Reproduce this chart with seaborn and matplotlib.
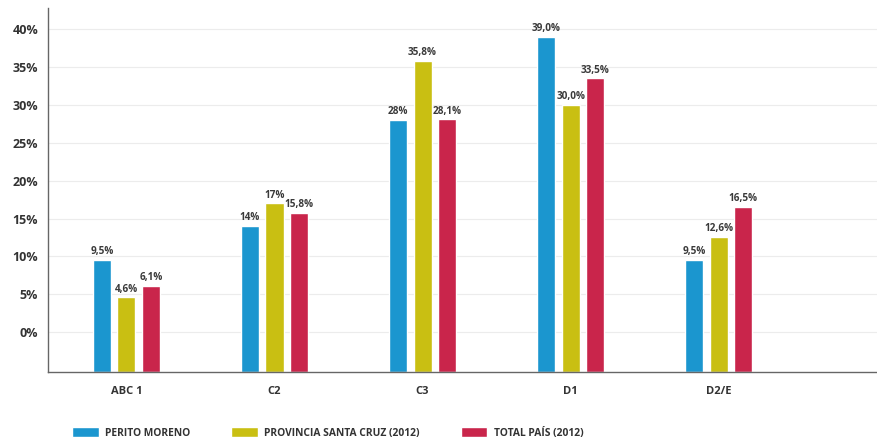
import pandas as pd
import matplotlib.pyplot as plt
import seaborn as sns
from matplotlib.ticker import FuncFormatter

categories = ["ABC 1", "C2", "C3", "D1", "D2/E"]
series = ["PERITO MORENO", "PROVINCIA SANTA CRUZ (2012)", "TOTAL PAÍS (2012)"]
perito_moreno = [9.5, 14.0, 28.0, 39.0, 9.5]
santa_cruz = [4.6, 17.0, 35.8, 30.0, 12.6]
total_pais = [6.1, 15.8, 28.1, 33.5, 16.5]
labels_pm = ["9,5%", "14%", "28%", "39,0%", "9,5%"]
labels_sc = ["4,6%", "17%", "35,8%", "30,0%", "12,6%"]
labels_tp = ["6,1%", "15,8%", "28,1%", "33,5%", "16,5%"]
colors = ["#1b96cf", "#c9bf12", "#c9254b"]

# bars in the original start below the 0% line, so shift everything by BASE
BASE = 5.25

rows = []
for s, vals, labs in zip(series, [perito_moreno, santa_cruz, total_pais],
                         [labels_pm, labels_sc, labels_tp]):
    for c, v, l in zip(categories, vals, labs):
        rows.append({"cat": c, "serie": s, "valor": v, "label": l})
df = pd.DataFrame(rows)
df["alto"] = df["valor"] + BASE

sns.set_theme(style="white")
plt.rcParams["font.family"] = ["Open Sans", "DejaVu Sans"]
plt.rcParams["font.weight"] = "bold"

fig = plt.figure(figsize=(8.77, 4.43), dpi=100)
ax = fig.add_axes([48 / 877, 1 - 372 / 443, 1 - 48 / 877, (372 - 8) / 443])

sns.barplot(data=df, x="cat", y="alto", hue="serie", order=categories,
            hue_order=series, palette=colors, width=0.5, gap=0.27,
            saturation=1, ax=ax, legend=True)

for cont, s in zip(ax.containers, series):
    labs = df[df["serie"] == s]["label"].tolist()
    ax.bar_label(cont, labels=labs, padding=2, fontsize=7.2,
                 fontweight="bold", color="#3a3a3a")

ticks = [v + BASE for v in range(0, 45, 5)]
ax.set_yticks(ticks)
ax.yaxis.set_major_formatter(FuncFormatter(lambda y, p: f"{round(y - BASE)}%"))
ax.set_ylim(0, 48.05)
ax.set_xlim(-0.53, 5.07)
ax.grid(axis="y", color="#ececec", linewidth=0.8)
ax.set_axisbelow(True)

for side in ["top", "right"]:
    ax.spines[side].set_visible(False)
for side in ["left", "bottom"]:
    ax.spines[side].set_color("#666666")
    ax.spines[side].set_linewidth(1.0)

ax.tick_params(axis="y", length=0, pad=7, labelsize=9, labelcolor="#333333")
ax.tick_params(axis="x", length=0, pad=10, labelsize=8, labelcolor="#333333")
for t in ax.get_xticklabels() + ax.get_yticklabels():
    t.set_fontweight("bold")
ax.set_xlabel("")
ax.set_ylabel("")

handles, names = ax.get_legend_handles_labels()
ax.get_legend().remove()
leg = fig.legend(handles, names, loc="center left",
                 bbox_to_anchor=(72 / 877, 10 / 443), ncol=3, frameon=False,
                 fontsize=7.4, handlelength=2.6, handleheight=1.15,
                 handletextpad=0.6, columnspacing=4.0, borderpad=0,
                 borderaxespad=0)
for t in leg.get_texts():
    t.set_fontweight("bold")
    t.set_color("#333333")

plt.savefig("out.png", dpi=100)
